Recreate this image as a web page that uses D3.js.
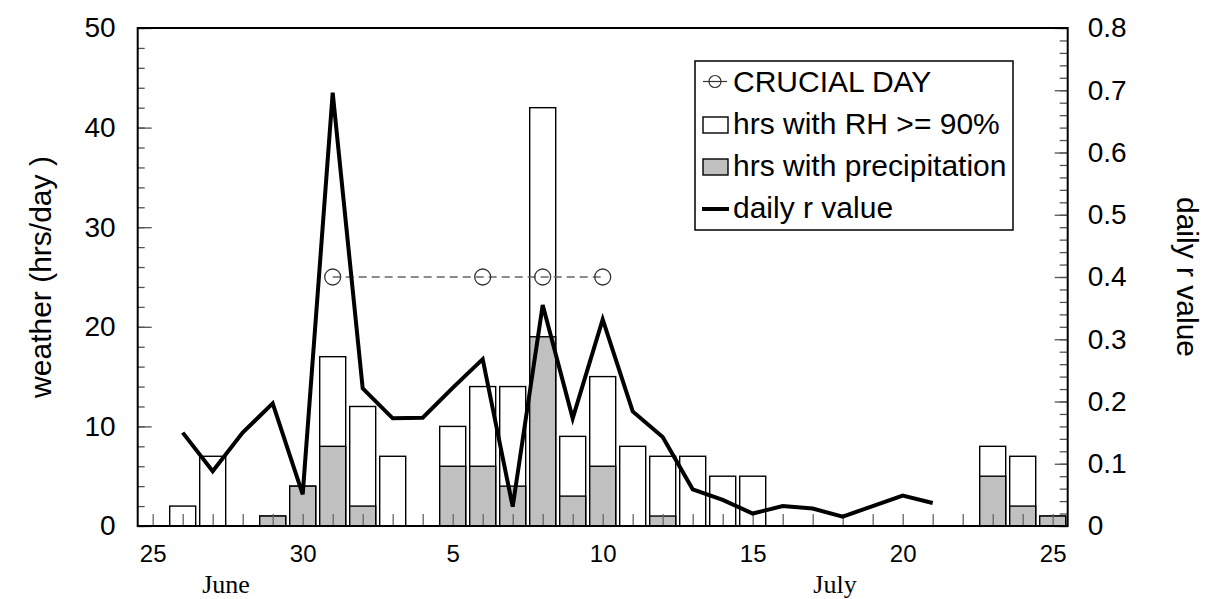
<!DOCTYPE html>
<html>
<head>
<meta charset="utf-8">
<script src="https://cdn.jsdelivr.net/npm/d3@7"></script>
<style>
  body { margin: 0; background: #fff; }
  text { font-family: "Liberation Sans", Arial, sans-serif; }
</style>
</head>
<body>
<div id="chart"></div>
<script>
// bars: hrs with RH >= 90% (total) and hrs with precipitation (grey part)
var barDays = ["06-26", "06-27", "06-29", "06-30", "07-01", "07-02", "07-03", "07-05", "07-06", "07-07",
               "07-08", "07-09", "07-10", "07-11", "07-12", "07-13", "07-14", "07-15", "07-23", "07-24", "07-25"];
var rhHours = [2, 7, 1, 4, 17, 12, 7, 10, 14, 14, 42, 9, 15, 8, 7, 7, 5, 5, 8, 7, 1];
var precipHours = [0, 0, 1, 4, 8, 2, 0, 6, 6, 4, 19, 3, 6, 0, 1, 0, 0, 0, 5, 2, 1];

// daily r value line
var rDays = ["06-26", "06-27", "06-28", "06-29", "06-30", "07-01", "07-02", "07-03", "07-04", "07-05",
             "07-06", "07-07", "07-08", "07-09", "07-10", "07-11", "07-12", "07-13", "07-14", "07-15",
             "07-16", "07-17", "07-18", "07-19", "07-20", "07-21"];
var rValues = [0.15, 0.088, 0.15, 0.197, 0.051, 0.696, 0.221, 0.173, 0.174, 0.222,
               0.268, 0.031, 0.355, 0.173, 0.332, 0.184, 0.143, 0.059, 0.042, 0.02,
               0.032, 0.028, 0.015, 0.032, 0.049, 0.037];

// crucial days, drawn at 25 hrs on the left scale
var crucialDays = ["07-01", "07-06", "07-08", "07-10"];
var crucialLevel = 25;

var leftTicks = [0, 10, 20, 30, 40, 50];
var rightTicks = [0, 0.1, 0.2, 0.3, 0.4, 0.5, 0.6, 0.7, 0.8];
var dateTicks = ["06-25", "06-30", "07-05", "07-10", "07-15", "07-20", "07-25"];

var parse = function(s) { return d3.timeParse("%Y-%m-%d")("2000-" + s); };

var width = 1205, height = 599;
var plotL = 137.7, plotR = 1067.7, plotT = 28, plotB = 526;

var svg = d3.select("#chart").append("svg")
    .attr("width", width)
    .attr("height", height);

var x = d3.scaleTime()
    .domain([d3.timeHour.offset(parse("06-25"), -12), d3.timeHour.offset(parse("07-25"), 12)])
    .range([plotL, plotR]);
var y = d3.scaleLinear().domain([0, 50]).range([plotB, plotT]);
var yr = d3.scaleLinear().domain([0, 0.8]).range([plotB, plotT]);

var barW = 26;

// bars
var bars = svg.append("g");
barDays.forEach(function(d, i) {
    var cx = x(parse(d));
    bars.append("rect")
        .attr("x", cx - barW / 2).attr("width", barW)
        .attr("y", y(rhHours[i])).attr("height", y(0) - y(rhHours[i]))
        .attr("fill", "#fff").attr("stroke", "#000").attr("stroke-width", 1.4);
    if (precipHours[i] > 0) {
        bars.append("rect")
            .attr("x", cx - barW / 2).attr("width", barW)
            .attr("y", y(precipHours[i])).attr("height", y(0) - y(precipHours[i]))
            .attr("fill", "#c0c0c0").attr("stroke", "#000").attr("stroke-width", 1.4);
    }
});

// minor day ticks on bottom
var allDays = d3.timeDay.range(parse("06-25"), d3.timeDay.offset(parse("07-25"), 1));
svg.append("g")
    .attr("transform", "translate(0," + plotB + ")")
    .call(d3.axisBottom(x).tickValues(allDays).tickSize(-12).tickSizeOuter(0).tickFormat(""))
    .call(function(g) { g.select(".domain").remove(); })
    .call(function(g) { g.selectAll("line").attr("stroke", "#666").attr("stroke-width", 1.3); });

// bottom labels
svg.append("g")
    .attr("transform", "translate(0," + plotB + ")")
    .call(d3.axisBottom(x).tickValues(dateTicks.map(parse)).tickSize(0).tickFormat(d3.timeFormat("%-d")))
    .call(function(g) { g.select(".domain").remove(); })
    .call(function(g) {
        g.selectAll("text").attr("y", 36).attr("dy", null)
            .attr("font-size", "24px").attr("fill", "#000")
            .style("font-family", '"Liberation Sans", Arial, sans-serif');
    });

// left axis
svg.append("g")
    .attr("transform", "translate(" + plotL + ",0)")
    .call(d3.axisLeft(y).tickValues(d3.range(0, 51, 2)).tickSize(-7).tickSizeOuter(0).tickFormat(""))
    .call(function(g) { g.select(".domain").remove(); })
    .call(function(g) { g.selectAll("line").attr("stroke", "#555").attr("stroke-width", 1.3); });
svg.append("g")
    .attr("transform", "translate(" + plotL + ",0)")
    .call(d3.axisLeft(y).tickValues(leftTicks).tickSize(-14).tickSizeOuter(0).tickPadding(22).tickFormat(d3.format("d")))
    .call(function(g) { g.select(".domain").remove(); })
    .call(function(g) {
        g.selectAll("line").attr("stroke", "#555").attr("stroke-width", 1.3);
        g.selectAll("text").attr("font-size", "28px").attr("fill", "#000")
            .style("font-family", '"Liberation Sans", Arial, sans-serif');
    });

// right axis
svg.append("g")
    .attr("transform", "translate(" + plotR + ",0)")
    .call(d3.axisRight(yr).tickValues(d3.range(0, 41).map(function(i) { return i * 0.02; })).tickSize(-8).tickSizeOuter(0).tickFormat(""))
    .call(function(g) { g.select(".domain").remove(); })
    .call(function(g) { g.selectAll("line").attr("stroke", "#555").attr("stroke-width", 1.3); });
svg.append("g")
    .attr("transform", "translate(" + plotR + ",0)")
    .call(d3.axisRight(yr).tickValues(rightTicks).tickSize(-13).tickSizeOuter(0).tickPadding(20).tickFormat(function(d) { return d === 0 ? "0" : d3.format(".1f")(d); }))
    .call(function(g) { g.select(".domain").remove(); })
    .call(function(g) {
        g.selectAll("line").attr("stroke", "#555").attr("stroke-width", 1.3);
        g.selectAll("text").attr("font-size", "28px").attr("fill", "#000")
            .style("font-family", '"Liberation Sans", Arial, sans-serif');
    });

// frame
svg.append("rect")
    .attr("x", plotL).attr("y", plotT)
    .attr("width", plotR - plotL).attr("height", plotB - plotT)
    .attr("fill", "none").attr("stroke", "#000").attr("stroke-width", 2);

// crucial days
var cy = y(crucialLevel);
svg.append("line")
    .attr("x1", x(parse(crucialDays[0]))).attr("x2", x(parse(crucialDays[crucialDays.length - 1])))
    .attr("y1", cy).attr("y2", cy)
    .attr("stroke", "#666").attr("stroke-width", 1.3).attr("stroke-dasharray", "8,5");
svg.append("g").selectAll("circle")
    .data(crucialDays)
    .enter().append("circle")
    .attr("cx", function(d) { return x(parse(d)); })
    .attr("cy", cy)
    .attr("r", 8)
    .attr("fill", "none").attr("stroke", "#333").attr("stroke-width", 1.3);

// r value line
var line = d3.line()
    .x(function(d, i) { return x(parse(rDays[i])); })
    .y(function(d) { return yr(d); });
svg.append("path")
    .datum(rValues)
    .attr("d", line)
    .attr("fill", "none").attr("stroke", "#000").attr("stroke-width", 4)
    .attr("stroke-linejoin", "miter");

// axis titles
svg.append("text")
    .attr("transform", "translate(51," + ((plotT + plotB) / 2) + ") rotate(-90)")
    .attr("text-anchor", "middle")
    .attr("font-size", "30px")
    .text("weather (hrs/day )");
svg.append("text")
    .attr("transform", "translate(1177," + ((plotT + plotB) / 2) + ") rotate(90)")
    .attr("text-anchor", "middle")
    .attr("font-size", "30px")
    .text("daily r value");

// month labels
svg.append("text").attr("x", 226).attr("y", 593).attr("text-anchor", "middle")
    .attr("font-size", "26px").style("font-family", '"Liberation Serif", "Times New Roman", serif')
    .text("June");
svg.append("text").attr("x", 835).attr("y", 593).attr("text-anchor", "middle")
    .attr("font-size", "26px").style("font-family", '"Liberation Serif", "Times New Roman", serif')
    .text("July");

// legend
var lg = svg.append("g");
lg.append("rect")
    .attr("x", 695).attr("y", 61).attr("width", 318).attr("height", 169)
    .attr("fill", "#fff").attr("stroke", "#000").attr("stroke-width", 1.5);
var rows = [92, 134, 176, 218];
var labels = ["CRUCIAL DAY", "hrs with RH >= 90%", "hrs with precipitation", "daily r value"];
lg.append("line").attr("x1", 703).attr("x2", 727).attr("y1", 81.5).attr("y2", 81.5)
    .attr("stroke", "#333").attr("stroke-width", 1.2);
lg.append("circle").attr("cx", 715).attr("cy", 81.5).attr("r", 6)
    .attr("fill", "none").attr("stroke", "#333").attr("stroke-width", 1.2);
lg.append("rect").attr("x", 703).attr("y", 117).attr("width", 25).attr("height", 16)
    .attr("fill", "#fff").attr("stroke", "#000").attr("stroke-width", 1.4);
lg.append("rect").attr("x", 703).attr("y", 159).attr("width", 25).attr("height", 16)
    .attr("fill", "#c0c0c0").attr("stroke", "#000").attr("stroke-width", 1.4);
lg.append("line").attr("x1", 702).attr("x2", 729).attr("y1", 209).attr("y2", 209)
    .attr("stroke", "#000").attr("stroke-width", 4);
lg.selectAll("text.lbl")
    .data(labels)
    .enter().append("text")
    .attr("class", "lbl")
    .attr("x", 733).attr("y", function(d, i) { return rows[i]; })
    .attr("font-size", "30px")
    .text(function(d) { return d; });
</script>
</body>
</html>
